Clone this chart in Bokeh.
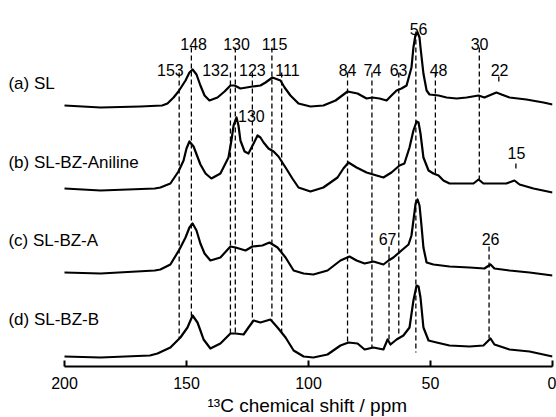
from bokeh.plotting import figure
from bokeh.models import Range1d, FixedTicker, ColumnDataSource, Title
from bokeh.core.properties import value
from bokeh.embed import file_html
from bokeh.resources import INLINE

# ---------------- data ----------------
sample_names = ["(a) SL", "(b) SL-BZ-Aniline", "(c) SL-BZ-A", "(d) SL-BZ-B"]

ppm_a = [200, 185.2, 168.9, 160.0, 157.8, 155.3, 153.3, 150.4, 148.8, 147.5, 145.9, 144.3, 142.6, 140.6, 137.3, 134.4,
         132.0, 130.3, 127.9, 125.4, 123.0, 119.7, 117.6, 114.8, 111.5, 109.8, 107.4, 104.1, 99.2, 93.9, 88.9,
         84.0, 79.9, 76.2, 73.8, 70.9, 68.0, 66.0, 63.9, 61.9, 59.8, 57.8, 57.0, 56.2, 55.3, 54.5,
         54.1, 52.9, 51.6, 50.4, 46.7, 43.4, 39.3, 35.2, 30.3, 27.9, 23.0, 20.9, 17.6, 10.7, 3.7, 0]
int_a = [0, -2, -1, 0, 2, 8, 14, 25, 33, 36, 31, 20, 10, 5, 8, 14,
         20, 20, 17, 18, 19, 20, 23, 28, 25, 18, 10, 2, -1, 0, 5,
         14, 12, 7, 8, 7, 5, 10, 15, 17, 20, 38, 58, 70, 73, 68,
         58, 32, 15, 11, 10, 8, 7, 8, 10, 8, 13, 11, 8, 6, 3, 1]

ppm_b = [200, 185.2, 163.0, 160.7, 156.6, 153.3, 151.2, 150.0, 148.8, 147.1, 144.3, 142.2, 139.8, 136.1, 132.8, 131.6,
         130.7, 129.5, 128.7, 127.9, 126.2, 124.6, 122.5, 120.9, 119.7, 118.4, 116.4, 114.3, 112.3, 109.4, 106.6,
         104.1, 99.2, 93.9, 88.1, 85.7, 83.6, 80.3, 76.2, 72.1, 69.3, 66.0, 62.7, 60.7, 58.6, 57.0,
         55.7, 54.9, 54.1, 52.9, 50.8, 48.8, 46.7, 44.7, 42.2, 36.5, 32.4, 30.3, 28.3, 23.0, 18.9,
         15.6, 13.5, 7.8, 0]
int_b = [0, -2, 0, 1, 5, 17, 28, 40, 47, 42, 24, 15, 10, 15, 31, 48,
         63, 71, 63, 48, 37, 35, 45, 53, 51, 46, 40, 37, 32, 21, 10,
         1, -3, 1, 11, 20, 26, 21, 16, 13, 11, 16, 23, 25, 41, 58,
         67, 66, 55, 31, 18, 15, 13, 8, 5, 5, 5, 9, 5, 5, 5,
         8, 4, 0, -4]

ppm_c = [200, 185.2, 163.0, 160.7, 156.6, 152.9, 150.4, 148.8, 147.5, 145.9, 144.3, 142.6, 140.2, 136.1, 132.0, 129.9,
         125.8, 123.0, 118.9, 116.0, 112.7, 109.4, 106.1, 102.0, 98.0, 92.2, 86.9, 83.2, 80.3, 77.0, 73.4,
         69.3, 67.2, 65.2, 61.9, 59.0, 57.8, 57.0, 56.1, 55.3, 54.5, 53.7, 52.9, 51.6, 48.8, 42.2,
         34.0, 27.9, 25.4, 23.8, 17.6, 9.4, 0]
int_c = [0, -1, 2, 3, 8, 23, 35, 45, 49, 42, 29, 19, 12, 15, 26, 25,
         22, 26, 27, 30, 25, 15, 2, -1, -2, 2, 12, 16, 12, 9, 11,
         8, 12, 15, 22, 28, 37, 52, 69, 73, 67, 47, 25, 10, 8, 6,
         5, 4, 8, 4, 2, 0, -3]

ppm_d = [200, 185.2, 165.0, 161.9, 156.6, 152.5, 149.6, 147.5, 145.5, 144.3, 143.0, 140.2, 136.1, 132.0, 129.9, 126.6,
         124.6, 122.5, 119.7, 115.6, 112.7, 109.4, 106.1, 102.0, 98.0, 92.2, 86.9, 83.6, 79.9, 77.0, 73.4,
         69.3, 67.6, 66.4, 63.9, 61.1, 58.6, 57.0, 55.7, 54.9, 54.1, 52.9, 50.8, 47.5, 42.2, 34.0,
         28.3, 25.4, 23.8, 17.6, 9.4, 0]
int_d = [-1, -2, 0, 2, 8, 18, 28, 40, 33, 25, 16, 7, 12, 22, 22, 21,
         28, 35, 33, 36, 28, 18, 5, -1, -2, 1, 10, 13, 12, 6, 8,
         6, 16, 11, 16, 20, 28, 55, 70, 69, 58, 28, 15, 13, 10, 9,
         10, 17, 11, 6, 4, -1]

# peak assignments (ppm) marked with dashed guide lines
peak_ppm = [153, 148, 132, 130, 123, 115, 111, 84, 74, 63, 56, 48, 30, 22, 15, 67, 26]

# peak labels: text
label_text = ["148", "130", "115", "30",
              "153", "132", "123", "111", "84", "74", "63", "48", "22",
              "56", "130", "15", "67", "26"]

x_ticks = [200, 150, 100, 50, 0]
x_title = "¹³C chemical shift / ppm"

# ---------------- layout (positions / styles) ----------------
offsets = [261, 178, 94, 11]
guide_top = [294, 319, 294, 319, 294, 319, 294, 294, 294, 294, 335, 294, 319, 290, 203, 120, 120]
guide_bot = [28, 50, 32, 32, 44, 46, 34, 23, 19, 30, 14, 191, 187, 283, 196, 27, 28]
label_x = [147.1, 129.5, 113.9, 29.9,
           156.6, 138.1, 123.0, 108.6, 84.0, 73.8, 63.1, 46.7, 21.7,
           54.9, 123.4, 14.8, 67.6, 25.4]
label_y = [323, 323, 323, 323,
           297, 297, 297, 297, 297, 297, 297, 297, 297,
           338, 251, 214, 128, 128]
name_x = 223.0
name_y = [283, 204, 126, 47]

FONT = "Liberation Sans"

p = figure(width=556, height=417, x_range=Range1d(226.23, 0), y_range=Range1d(0, 366),
           output_backend="svg", toolbar_location=None, y_axis_location=None,
           min_border_left=0, min_border_right=4, min_border_top=0, min_border_bottom=51)
p.xgrid.visible = False
p.ygrid.visible = False
p.outline_line_color = None
p.background_fill_color = "white"
p.border_fill_color = "white"

ax = p.xaxis[0]
ax.bounds = (0, 200)
ax.ticker = FixedTicker(ticks=x_ticks)
ax.major_tick_in = 6
ax.major_tick_out = 0
ax.minor_tick_in = 0
ax.minor_tick_out = 0
ax.axis_line_width = 2
ax.major_tick_line_width = 2
ax.axis_line_color = "black"
ax.major_tick_line_color = "black"
ax.major_label_text_font = FONT
ax.major_label_text_font_size = "16px"
ax.major_label_text_color = "black"
ax.major_label_standoff = 10

# axis title, placed under the 200..0 axis span
p.add_layout(Title(text=x_title, align="left", offset=207, standoff=2,
                   text_font=FONT, text_font_size="19px", text_font_style="normal",
                   text_color="black"), "below")

# guide lines (drawn first, behind spectra)
p.segment(x0=peak_ppm, x1=peak_ppm, y0=guide_top, y1=guide_bot,
          line_color="black", line_width=1.3, line_dash="5 3")

# spectra
for ppm, inten, off in zip([ppm_a, ppm_b, ppm_c, ppm_d], [int_a, int_b, int_c, int_d], offsets):
    ys = [v + off for v in inten]
    p.line(ppm, ys, line_color="black", line_width=2.2, line_join="round")

# peak labels
src = ColumnDataSource(dict(x=label_x, y=label_y, t=label_text))
p.text(x="x", y="y", text="t", source=src, text_font=value(FONT), text_font_size="16px",
       text_align="center", text_baseline="alphabetic", text_color="black")

# sample names
nsrc = ColumnDataSource(dict(x=[name_x] * len(sample_names), y=name_y, t=sample_names))
p.text(x="x", y="y", text="t", source=nsrc, text_font=value(FONT), text_font_size="17px",
       text_align="left", text_baseline="alphabetic", text_color="black")

open("out.html", "w").write(file_html(p, INLINE))
